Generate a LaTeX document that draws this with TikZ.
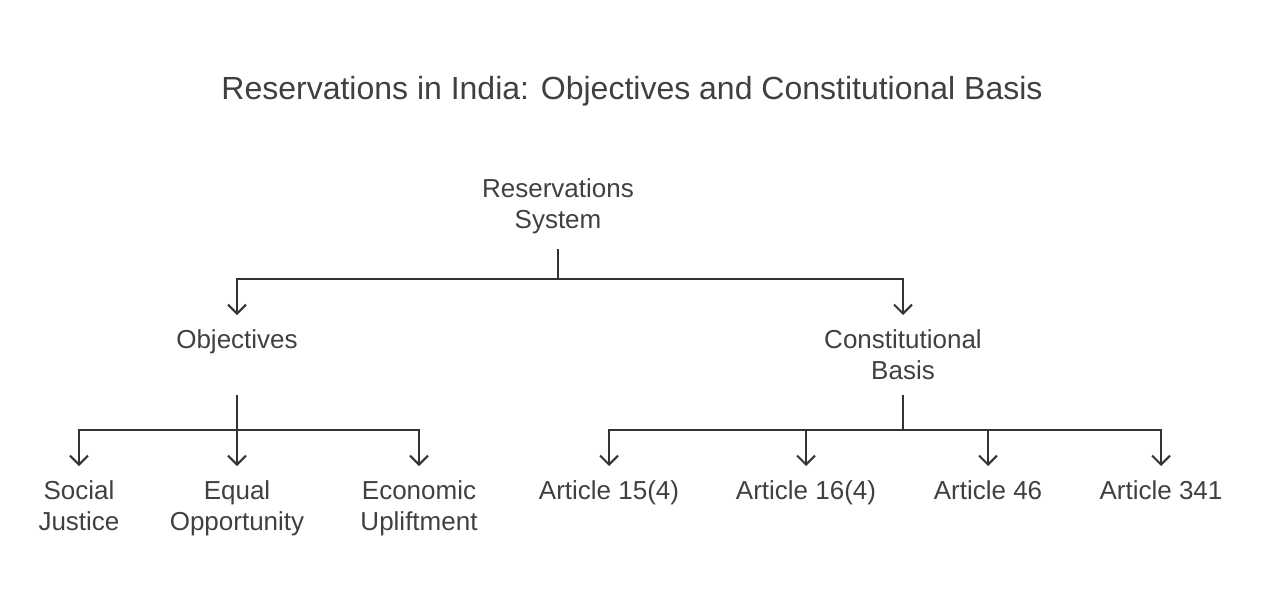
\documentclass[tikz,border=0pt]{standalone}
\usepackage{fontspec}
\setmainfont{Liberation Sans}
\usetikzlibrary{arrows.meta, positioning, calc}

\definecolor{inkline}{HTML}{333333}
\definecolor{inktext}{HTML}{404040}

\begin{document}
\begin{tikzpicture}[
    x=1pt, y=-1pt,
    lbl/.style={align=center, anchor=north, inner sep=0pt, outer xsep=0pt, outer ysep=15pt, text=inktext, font=\fontsize{26}{31}\selectfont},
    ttl/.style={anchor=base, inner sep=0pt, text=inktext, font=\fontsize{32}{36}\selectfont},
    link/.style={draw=inkline, line width=2pt},
    arr/.style={link, -{Straight Barb[length=9pt, width=18pt, line width=2pt]}},
]
\useasboundingbox (0,0) rectangle (1265,600);

% ── Title ──
\node[ttl] (title) at (632, 99) {Reservations in India: Objectives and Constitutional Basis};

% ── Nodes ──
\node[lbl] (root) at (558, 164) {Reservations\\System};

\node[lbl] (obj) at (237, 315) {Objectives\\\mbox{}};
\node[lbl] (cb) at (903, 315) {Constitutional\\Basis};

\node[lbl] (soc) at (79, 466) {Social\\Justice};
\node[lbl] (equ) at (237, 466) {Equal\\Opportunity};
\node[lbl] (eco) at (419, 466) {Economic\\Upliftment};

\node[lbl] (a154) at (609, 466) {Article 15(4)};
\node[lbl] (a164) at (806, 466) {Article 16(4)};
\node[lbl] (a46) at (988, 466) {Article 46};
\node[lbl] (a341) at (1161, 466) {Article 341};

% ── Junctions ──
\coordinate (j0) at (root.south |- 0,279);
\coordinate (j1) at (obj.south |- 0,430);
\coordinate (j2) at (cb.south |- 0,430);

% ── Connectors ──
\draw[link] (root.south) -- (j0);
\draw[arr] (j0) -| (obj);
\draw[arr] (j0) -| (cb);

\draw[link] (obj.south) -- (j1);
\draw[arr] (j1) -| (soc);
\draw[arr] (j1) -- (equ);
\draw[arr] (j1) -| (eco);

\draw[link] (cb.south) -- (j2);
\draw[arr] (j2) -| (a154);
\draw[arr] (j2) -| (a164);
\draw[arr] (j2) -| (a46);
\draw[arr] (j2) -| (a341);

\end{tikzpicture}
\end{document}
